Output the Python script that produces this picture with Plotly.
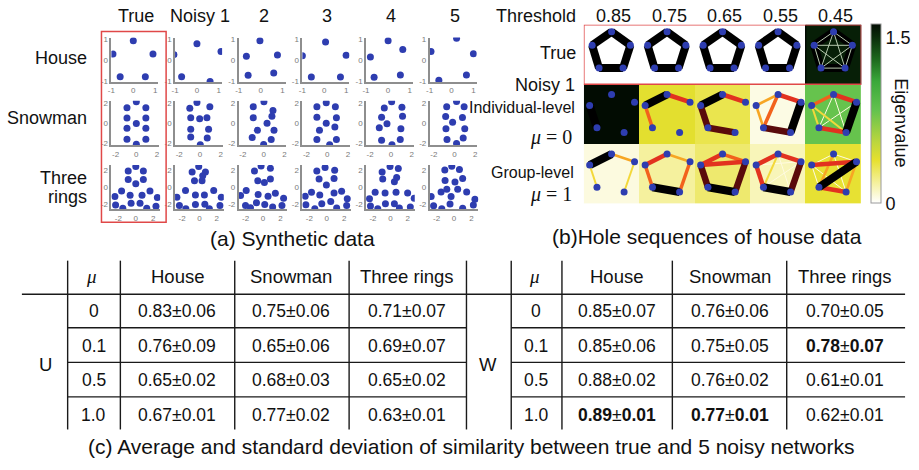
import plotly.graph_objects as go

FIG_W, FIG_H = 919, 470
SANS = "Liberation Sans, Arial, sans-serif"
SERIF = "Liberation Serif, Times New Roman, serif"
INK = "#111111"
DOT = "#2e3db0"

# ---------------- (a) synthetic point clouds ----------------
COLUMN_TITLES = ["True", "Noisy 1", "2", "3", "4", "5"]

house_x = [
    [0.00, -0.93, 0.90, -0.60, 0.55],
    [0.00, -1.05, 1.10, -0.70, 0.60],
    [-0.03, -0.65, 0.77, -0.57, 0.60],
    [0.06, -1.00, 1.00, -0.59, 0.74],
    [0.01, -0.80, 0.68, -0.63, 0.57],
    [0.23, -0.94, 1.00, -0.58, 0.68],
]
house_y = [
    [0.95, 0.30, 0.30, -0.80, -0.80],
    [0.80, 0.27, 0.43, -0.80, -1.03],
    [0.94, 0.19, 0.25, -0.73, -0.62],
    [0.89, 0.22, 0.24, -0.81, -0.81],
    [0.94, 0.16, 0.52, -0.82, -0.71],
    [1.06, 0.43, 0.32, -0.97, -0.71],
]

snowman_x = [
    [0.00, -0.90, 0.92, -0.90, 0.92, 0.00, -0.90, 0.92, -0.90, 0.92, 0.00],
    [-0.29, -0.98, 0.95, -0.89, -0.03, 0.67, -0.89, 0.83, -0.89, 0.70, 0.03],
    [0.03, -1.00, 0.90, 0.80, -1.00, 0.33, -0.60, 1.00, -1.10, 0.73, 0.00],
    [-0.10, -1.00, 0.78, -1.00, 0.88, -0.10, -0.75, 0.73, -1.00, 0.88, 0.23],
    [0.07, -0.64, 1.06, -0.90, 1.12, -0.38, -1.12, 0.96, -0.90, 0.90, 0.10],
    [0.19, -0.76, 0.92, -0.86, 0.76, -0.19, -0.83, 0.98, -0.73, 0.83, 0.19],
]
snowman_y = [
    [2.20, 1.60, 1.60, 0.55, 0.55, 0.00, -0.50, -0.50, -1.60, -1.60, -2.10],
    [2.13, 1.53, 1.70, 0.57, 0.47, 0.57, -0.60, -0.60, -1.37, -1.47, -2.15],
    [2.20, 1.70, 1.30, 0.73, 0.57, 0.03, -0.70, -0.70, -1.43, -1.63, -2.13],
    [2.10, 1.70, 1.70, 0.63, 0.57, 0.03, -0.70, -0.37, -1.63, -1.63, -2.15],
    [2.20, 1.57, 1.63, 0.63, 0.73, -0.03, -0.43, -0.53, -1.70, -1.63, -2.15],
    [2.22, 1.70, 1.70, 0.70, 0.60, 0.13, -0.53, -0.53, -1.63, -1.47, -2.03],
]

rings_x = [
    [-0.87, 0.00, 0.87, -0.87, 0.00, 0.87, -1.63, -2.40, -2.32, -1.49, -0.65, -0.54,
     0.72, 1.63, 2.48, 2.32, 1.26, 0.49],
    [-0.84, -0.08, 0.69, -0.57, 0.30, 0.38, -1.60, -2.59, -1.56, -0.46, -0.46, 0.57,
     1.14, 1.64, 2.51, 2.36, -2.30, 0.62],
    [-0.99, -0.23, 0.84, -0.61, 0.15, 0.84, -1.94, -2.59, -0.57, 0.57, 1.41, 2.36,
     -2.02, -1.45, -0.76, 0.19, 1.10, 2.17],
    [-1.14, -0.19, 0.91, -0.88, 0.84, -0.04, -1.75, -2.48, -0.80, 0.84, 1.71, 2.36,
     -2.40, -1.37, -0.57, 0.46, 1.14, 2.29],
    [-0.95, -0.04, 0.91, -0.88, 0.46, 0.72, -1.75, -2.40, -0.61, 0.65, 1.98, 2.74,
     -2.29, -1.45, -0.57, 0.46, 1.03, 2.29],
    [-1.06, -0.26, 0.62, -1.03, 0.11, 0.99, -1.49, -2.63, -0.83, -0.34, 0.42, 1.45,
     2.40, -2.35, -1.41, -0.46, 0.99, 2.22],
]
rings_y = [
    [1.90, 2.40, 1.90, 0.90, 0.40, 0.90, -0.42, -1.06, -2.06, -2.43, -0.91, -1.86,
     -0.91, -0.42, -1.18, -2.20, -2.43, -1.86],
    [1.79, 2.40, 1.79, 0.76, 0.76, 1.33, -0.38, -1.14, -2.48, -1.98, -0.88, -0.88,
     -2.48, -0.38, -1.14, -2.10, -2.10, -1.95],
    [1.90, 2.48, 2.21, 0.76, 0.57, 0.95, -0.38, -0.95, -0.84, -1.03, -0.69, -1.26,
     -2.10, -2.36, -1.79, -1.98, -2.29, -2.10],
    [1.90, 2.29, 1.98, 0.95, 1.03, 0.27, -0.57, -1.03, -0.88, -0.65, -0.46, -1.33,
     -2.02, -2.48, -1.90, -1.64, -2.40, -2.10],
    [1.79, 2.40, 2.17, 0.95, 0.65, 1.14, -0.57, -1.33, -0.65, -0.57, -0.65, -1.26,
     -2.17, -2.48, -1.90, -1.90, -2.40, -2.29],
    [2.00, 2.43, 2.06, 0.78, 0.61, 1.03, -0.54, -1.06, -0.23, -1.06, -0.23, -0.54,
     -1.37, -2.14, -2.48, -1.94, -2.43, -2.06],
]

# ---------------- (b) hole sequences ----------------
THRESHOLDS = ["0.85", "0.75", "0.65", "0.55", "0.45"]
eig_true = [0.0, 0.0, 0.0, 0.0, 1.55]
eig_individual = [1.62, 0.40, 0.33, 0.05, 0.83]
eig_group = [0.06, 0.18, 0.27, 0.13, 0.38]

# node order: top, left, right, bottom-left, bottom-right
CYCLE = [(0, 1, "k"), (0, 2, "k"), (1, 3, "k"), (2, 4, "k"), (3, 4, "k")]
ALL_PAIRS = [(i, j, "g") for i in range(5) for j in range(i + 1, 5)]
edges_true = [CYCLE, CYCLE, CYCLE, CYCLE, CYCLE + ALL_PAIRS]
edges_individual = [
    [(1, 3, "k")],
    [(0, 1, "k"), (0, 2, "r"), (1, 3, "o")],
    [(0, 1, "k"), (0, 2, "r"), (1, 3, "d"), (3, 4, "d")],
    [(0, 1, "y"), (0, 3, "o"), (1, 3, "y"), (0, 2, "r"), (2, 4, "k"), (3, 4, "d")],
    [(0, 3, "w"), (0, 4, "w"), (2, 3, "w"), (0, 1, "o"), (1, 3, "l"), (1, 4, "l"),
     (0, 2, "r"), (3, 4, "r"), (2, 4, "k")],
]
edges_group = [
    [(0, 1, "k"), (0, 2, "y"), (1, 3, "l"), (2, 4, "l")],
    [(0, 1, "r"), (0, 2, "y"), (1, 3, "o"), (2, 4, "o"), (3, 4, "k")],
    [(0, 2, "o"), (0, 1, "r"), (1, 2, "r"), (1, 3, "d"), (2, 4, "d"), (3, 4, "k")],
    [(0, 4, "w"), (2, 3, "w"), (1, 2, "w"), (0, 3, "l"), (0, 1, "r"), (0, 2, "r"),
     (1, 3, "r"), (2, 4, "d"), (3, 4, "k")],
    [(0, 1, "w"), (0, 2, "w"), (1, 3, "w"), (1, 4, "w"), (0, 4, "w"), (0, 3, "y"),
     (2, 4, "y"), (1, 2, "r"), (3, 4, "r"), (2, 3, "k")],
]
EDGE_STYLE = {
    "k": ("#000000", 8.0),
    "d": ("#5a0b0b", 6.5),
    "r": ("#e2321f", 4.5),
    "o": ("#f2621c", 3.5),
    "y": ("#f7a623", 2.6),
    "l": ("#f3d83a", 2.0),
    "w": ("#fffbe0", 1.0),
    "g": ("#b7c9ae", 1.0),
}
EIG_SCALE = [
    [0.00, "#ffffff"], [0.10, "#f6f2a8"], [0.24, "#e6e02e"], [0.34, "#bcd63e"],
    [0.52, "#62c24e"], [0.68, "#3aa83a"], [0.80, "#1e6a1e"], [0.93, "#0a2a0a"],
    [1.00, "#020c02"],
]

# ---------------- (c) similarity table ----------------
MU = ["0", "0.1", "0.5", "1.0"]
DATASETS = ["House", "Snowman", "Three rings"]
u_mean = [[0.83, 0.75, 0.71], [0.76, 0.65, 0.69], [0.65, 0.68, 0.65], [0.67, 0.77, 0.63]]
u_std = [[0.06, 0.06, 0.07], [0.09, 0.06, 0.07], [0.02, 0.03, 0.02], [0.01, 0.02, 0.01]]
w_mean = [[0.85, 0.76, 0.70], [0.85, 0.75, 0.78], [0.88, 0.76, 0.61], [0.89, 0.77, 0.62]]
w_std = [[0.07, 0.06, 0.05], [0.06, 0.05, 0.07], [0.02, 0.02, 0.01], [0.01, 0.01, 0.01]]


def fx(px):
    return px / FIG_W


def fy(py):
    return 1 - py / FIG_H


fig = go.Figure()
layout = {}
annotations = []
shapes = []


def label(text, px, py, size=18, xanchor="center", family=SANS, angle=0):
    annotations.append(dict(
        text=text, x=fx(px), y=fy(py), xref="paper", yref="paper",
        xanchor=xanchor, yanchor="middle", showarrow=False, textangle=angle,
        font=dict(size=size, family=family, color=INK)))


def line(x0, y0, x1, y1, width=1.4, color="#1a1a1a"):
    shapes.append(dict(type="line", xref="paper", yref="paper",
                       x0=fx(x0), y0=fy(y0), x1=fx(x1), y1=fy(y1),
                       line=dict(color=color, width=width)))


# ---- (a) small scatter panels
ROW_SPECS = [
    # top, bottom, width(px), x range, y range, ticks
    (36, 81, 47.3, [-1, 1.15], [-1.05, 1.1], [-1, 0, 1]),
    (100, 145, 48, [-2.4, 2.2], [-2.2, 2.3], [-2, 0, 2]),
    (165, 210, 49, [-2.8, 2.8], [-2.55, 2.6], [-2, 0, 2]),
]
COL_LEFT = [108, 172, 236, 300, 364, 428]
clouds = [(house_x, house_y), (snowman_x, snowman_y), (rings_x, rings_y)]

n = 0
for r, (top, bottom, width, xr, yr, ticks) in enumerate(ROW_SPECS):
    xs_all, ys_all = clouds[r]
    for c in range(6):
        n += 1
        sfx = "" if n == 1 else str(n)
        left = COL_LEFT[c]
        axis_common = dict(
            showgrid=False, zeroline=False, showline=True, linecolor="#8e8e8e",
            linewidth=1.6, ticks="", tickvals=ticks,
            ticktext=[("-" + str(abs(t))) if t < 0 else str(t) for t in ticks],
            tickfont=dict(size=8, color="#7a7a7a", family=SANS), fixedrange=True)
        layout["xaxis" + sfx] = dict(axis_common, domain=[fx(left), fx(left + width)],
                                     range=xr, anchor="y" + sfx)
        layout["yaxis" + sfx] = dict(axis_common, domain=[fy(bottom), fy(top)],
                                     range=yr, anchor="x" + sfx)
        fig.add_trace(go.Scatter(
            x=xs_all[c], y=ys_all[c], mode="markers",
            marker=dict(size=7, color=DOT), xaxis="x" + sfx, yaxis="y" + sfx,
            hoverinfo="skip", showlegend=False))

for c, title in enumerate(COLUMN_TITLES):
    label(title, COL_LEFT[c] + 25, 14, size=18)
label("House", 85, 57, size=18, xanchor="right")
label("Snowman", 85, 117, size=18, xanchor="right")
label("Three", 85, 178, size=18, xanchor="right")
label("rings", 85, 198, size=18, xanchor="right")
shapes.append(dict(type="rect", xref="paper", yref="paper",
                   x0=fx(98), x1=fx(163), y0=fy(223), y1=fy(30),
                   line=dict(color="#e04848", width=1.5)))
label("(a) Synthetic data", 290, 240, size=21)

# ---- (b) hole sequences on a 5 x 3 grid of cells
NX, NY = "x19", "y19"
G_LEFT, G_RIGHT, G_TOP, G_BOTTOM = 583, 862, 23, 204
layout["xaxis19"] = dict(domain=[fx(G_LEFT), fx(G_RIGHT)], range=[0, 5], visible=False,
                         fixedrange=True, anchor=NY)
layout["yaxis19"] = dict(domain=[fy(G_BOTTOM), fy(G_TOP)], range=[0, 3], visible=False,
                         fixedrange=True, anchor=NX)

fig.add_trace(go.Heatmap(
    x=[0.5, 1.5, 2.5, 3.5, 4.5], y=[0.5, 1.5, 2.5],
    z=[eig_group, eig_individual, eig_true],
    zmin=0, zmax=1.62, colorscale=EIG_SCALE, xaxis=NX, yaxis=NY, hoverinfo="skip",
    colorbar=dict(
        x=fx(872), xanchor="left", xpad=0, y=fy(G_BOTTOM), yanchor="bottom", ypad=0,
        len=(G_BOTTOM - G_TOP) / FIG_H, lenmode="fraction", thickness=10,
        thicknessmode="pixels", outlinecolor="#9a9a9a", outlinewidth=1,
        tickvals=[0, 1.5], ticktext=["0", "1.5"], ticks="",
        tickfont=dict(size=18, color=INK, family=SANS))))

cell_w = (G_RIGHT - G_LEFT) / 5
cell_h = (G_BOTTOM - G_TOP) / 3
SCALE_PX = 21.0
SX, SY = SCALE_PX / cell_w, SCALE_PX / cell_h
rows_b = [(edges_true, 0), (edges_individual, 1), (edges_group, 1)]
for r, (edge_sets, coord_col) in enumerate(rows_b):
    hx, hy = house_x[coord_col], house_y[coord_col]
    yc = 3 - r - 0.5 + 3.0 / cell_h
    for c in range(5):
        xc = c + 0.5
        nx = [xc + v * SX for v in hx]
        ny = [yc + v * SY for v in hy]
        for i, j, style in edge_sets[c]:
            color, w = EDGE_STYLE[style]
            fig.add_trace(go.Scatter(
                x=[nx[i], nx[j]], y=[ny[i], ny[j]], mode="lines",
                line=dict(color=color, width=w), xaxis=NX, yaxis=NY,
                hoverinfo="skip", showlegend=False))
        fig.add_trace(go.Scatter(
            x=nx, y=ny, mode="markers", marker=dict(size=7, color=DOT),
            xaxis=NX, yaxis=NY, hoverinfo="skip", showlegend=False))

shapes.append(dict(type="rect", xref=NX, yref=NY, x0=4, x1=5, y0=2, y1=3,
                   line=dict(color="#000000", width=1)))
shapes.append(dict(type="rect", xref=NX, yref=NY, x0=0, x1=5, y0=2, y1=3,
                   line=dict(color="#e04848", width=1.5)))

label("Threshold", 577, 14, size=18, xanchor="right")
for c, t in enumerate(THRESHOLDS):
    label(t, G_LEFT + cell_w * (c + 0.5) + 2, 14, size=18)
label("True", 577, 52, size=18, xanchor="right")
label("Noisy 1", 576, 84, size=18, xanchor="right")
label("Individual-level", 576, 107, size=16, xanchor="right")
label("<i>μ</i> = 0", 573, 137, size=20, xanchor="right", family=SERIF)
label("Group-level", 575, 173, size=16, xanchor="right")
label("<i>μ</i> = 1", 573, 195, size=20, xanchor="right", family=SERIF)
label("Eigenvalue", 901, 122, size=18, angle=90)
label("(b)Hole sequences of house data", 707, 238, size=21)

# ---- (c) table
T_TOP, T_HEAD_LINE, T_BOTTOM = 262, 296, 433
ROW_LINES = [330, 365, 400]
ROW_Y = [313, 348, 383, 418]
line(18, T_HEAD_LINE, 906, T_HEAD_LINE)
for y in ROW_LINES:
    line(64, y, 465, y)
    line(510, y, 906, y)
for x in [64, 117, 232, 347, 465, 510, 561, 672, 787]:
    line(x, T_TOP, x, T_BOTTOM)

tables = [("U", 42, [90, 174, 289, 405], u_mean, u_std, False),
          ("W", 487, [535, 616, 730, 846], w_mean, w_std, True)]
for name, name_x, cols, mean, std, mark_best in tables:
    label(name, name_x, 367, size=18.5)
    label("<i>μ</i>", cols[0] - 2, 278, size=19, family=SERIF)
    for k, ds in enumerate(DATASETS):
        label(ds, cols[k + 1], 278, size=18.5)
    best = [max(mean[i][k] for i in range(len(MU))) for k in range(3)]
    for i, mu in enumerate(MU):
        label(mu, cols[0], ROW_Y[i], size=17.5)
        for k in range(3):
            m, s = "%.2f" % mean[i][k], "%.2f" % std[i][k]
            if mark_best and mean[i][k] == best[k]:
                txt = "<b>%s</b>±<b>%s</b>" % (m, s)
            else:
                txt = "%s±%s" % (m, s)
            label(txt, cols[k + 1], ROW_Y[i], size=17.5)

label("(c) Average and standard deviation of similarity between true and 5 noisy networks",
      470, 450, size=21)

fig.update_layout(
    width=FIG_W, height=FIG_H, margin=dict(l=0, r=0, t=0, b=0),
    paper_bgcolor="white", plot_bgcolor="rgba(0,0,0,0)", showlegend=False,
    annotations=annotations, shapes=shapes, font=dict(family=SANS, color=INK),
    **layout)

fig.write_html("out.html")
